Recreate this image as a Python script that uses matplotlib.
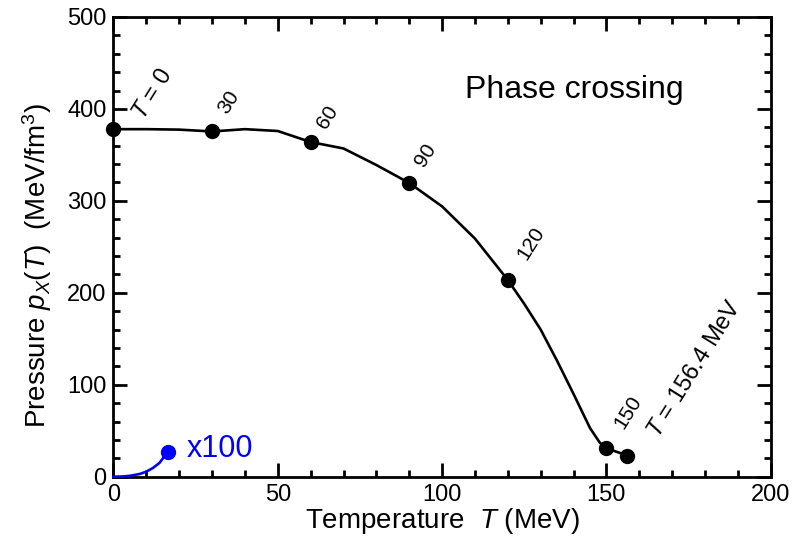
import matplotlib
matplotlib.use("Agg")
import matplotlib.pyplot as plt
from matplotlib.ticker import MultipleLocator

plt.rcParams['font.family'] = ['Liberation Sans', 'DejaVu Sans']
plt.rcParams['mathtext.fontset'] = 'custom'
plt.rcParams['mathtext.rm'] = 'Liberation Sans'
plt.rcParams['mathtext.it'] = 'Liberation Sans:italic'
plt.rcParams['mathtext.bf'] = 'Liberation Sans:bold'

# curve p_X(T)
T_line = [0, 10, 20, 30, 40, 50, 60, 70, 80, 90, 100, 110, 120, 125, 130, 135, 140, 145, 148, 150, 156.4]
p_line = [378, 378, 377.5, 375.5, 378, 376, 364, 357, 339, 319.5, 294, 259, 214, 188, 160, 126, 90, 53, 37, 31, 23]
# marked points
T_pts = [0, 30, 60, 90, 120, 150, 156.4]
p_pts = [378, 375.5, 364, 319.5, 214, 31, 23]
pt_labels = ["$T$ = 0", "30", "60", "90", "120", "150", "$T$ = 156.4 MeV"]
pt_sizes = [17, 15, 15, 15, 15, 15, 17]
lab_T = [12, 35, 65, 95, 127, 156.6, 177]
lab_p = [416, 407, 391, 350, 254, 70, 117]

# blue x100 curve
T_blue = [0, 3, 5, 8, 10, 12, 14, 16.5]
p_blue = [0, 0.3, 1.0, 3.0, 5.5, 9.5, 15, 27]

fig = plt.figure(figsize=(8.03, 5.36), dpi=100)
ax = fig.add_axes([0.1413, 0.1106, 0.8185, 0.8577])

ax.plot(T_line, p_line, color='black', lw=1.9, clip_on=False, zorder=3)
ax.plot(T_pts, p_pts, 'o', color='black', ms=10, clip_on=False, zorder=4)
ax.plot(T_blue, p_blue, color='blue', lw=1.9, clip_on=False, zorder=3)
ax.plot([T_blue[-1]], [p_blue[-1]], 'o', color='blue', ms=10, clip_on=False, zorder=4)
ax.text(22.4, 30, "x100", color='blue', fontsize=22, ha='left', va='center')

for lab, sz, tx, py in zip(pt_labels, pt_sizes, lab_T, lab_p):
    ax.text(tx, py, lab, fontsize=sz, rotation=58, ha='center', va='center')

ax.text(140.2, 421, "Phase crossing", fontsize=23, ha='center', va='center')

ax.set_xlim(0, 200)
ax.set_ylim(0, 500)
ax.xaxis.set_major_locator(MultipleLocator(50))
ax.xaxis.set_minor_locator(MultipleLocator(10))
ax.yaxis.set_major_locator(MultipleLocator(100))
ax.yaxis.set_minor_locator(MultipleLocator(20))
ax.tick_params(which='both', direction='in', top=True, right=True, width=2, labelsize=17)
ax.tick_params(which='major', length=10, pad=5)
ax.tick_params(which='minor', length=5)
for s in ax.spines.values():
    s.set_linewidth(2)

ax.set_xlabel("Temperature  $T$ (MeV)", fontsize=20, labelpad=0)
ax.set_ylabel("Pressure $p_X(T)$  (MeV/fm$^3$)", fontsize=20)
ax.yaxis.set_label_coords(-0.09, 0.46)

fig.savefig("out.png", dpi=100)
